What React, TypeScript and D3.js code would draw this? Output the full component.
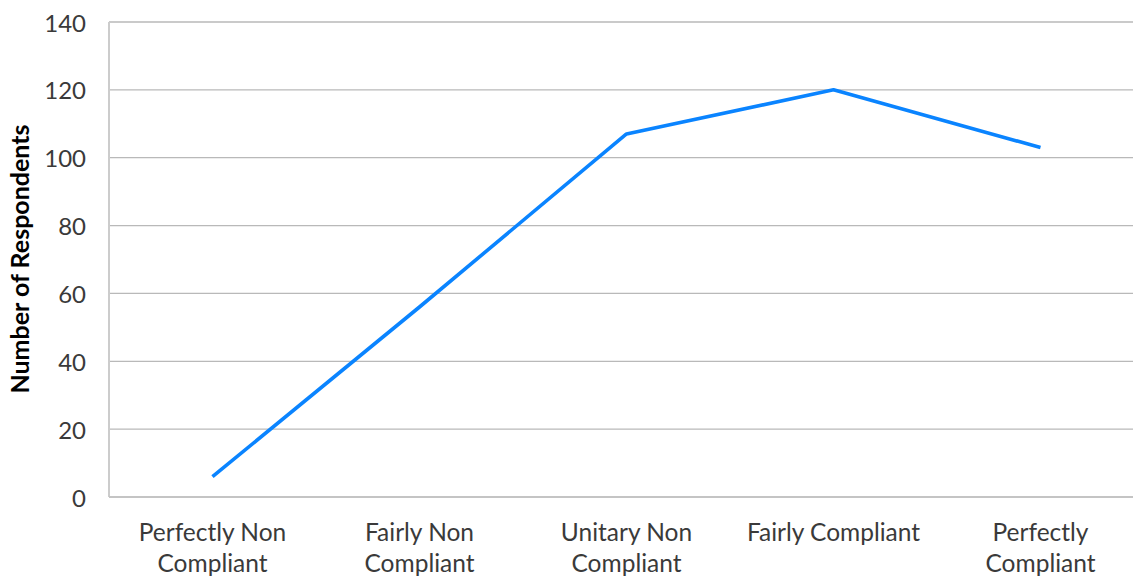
import React from "react";
import * as d3 from "d3";

const categories: string[][] = [
  ["Perfectly Non", "Compliant"],
  ["Fairly Non", "Compliant"],
  ["Unitary Non", "Compliant"],
  ["Fairly Compliant"],
  ["Perfectly", "Compliant"],
];
const values: number[] = [6, 56, 107, 120, 103];
const yTicks: number[] = [0, 20, 40, 60, 80, 100, 120, 140];
const yTitle = "Number of Respondents";

const W = 1133;
const H = 577;
const left = 109;
const right = 1144;
const top = 22;
const bottom = 497;
const FONT = "Lato, 'Open Sans', sans-serif";

export default function App() {
  const idx = categories.map((_, i) => String(i));
  const x = d3.scaleBand<string>().domain(idx).range([left, right]);
  const y = d3.scaleLinear().domain([0, 140]).range([bottom, top]);
  const line = d3
    .line<number>()
    .x((_, i) => (x(String(i)) as number) + x.bandwidth() / 2)
    .y((d) => y(d));

  return (
    <div style={{ position: "absolute", left: 0, top: 0 }}>
      <svg width={W} height={H} style={{ display: "block", background: "#fff" }}>
        {yTicks.map((t) => (
          <g key={t}>
            {t > 0 && (
              <line x1={left} x2={W} y1={y(t)} y2={y(t)} stroke="#b9b9b9" strokeWidth={1.3} />
            )}
            <text
              x={86}
              y={y(t)}
              textAnchor="end"
              dominantBaseline="central"
              fontFamily={FONT}
              fontSize={24}
              fill="#3a3a3a"
            >
              {t}
            </text>
          </g>
        ))}
        <line x1={left} x2={left} y1={top} y2={bottom} stroke="#cccccc" strokeWidth={2} />
        <line x1={left} x2={W} y1={bottom} y2={bottom} stroke="#c4c4c4" strokeWidth={2} />
        <path d={line(values) || ""} fill="none" stroke="#0a84ff" strokeWidth={3.6} strokeLinejoin="round" />
        {categories.map((lines, i) => {
          const cx = (x(String(i)) as number) + x.bandwidth() / 2;
          return (
            <text key={i} textAnchor="middle" fontFamily={FONT} fontSize={24.5} fill="#3a3a3a">
              {lines.map((l, j) => (
                <tspan key={j} x={cx} y={541 + j * 31}>
                  {l}
                </tspan>
              ))}
            </text>
          );
        })}
        <text
          transform={`translate(29,259) rotate(-90)`}
          textAnchor="middle"
          fontFamily={FONT}
          fontSize={25}
          fontWeight="bold"
          fill="#000"
        >
          {yTitle}
        </text>
      </svg>
    </div>
  );
}
